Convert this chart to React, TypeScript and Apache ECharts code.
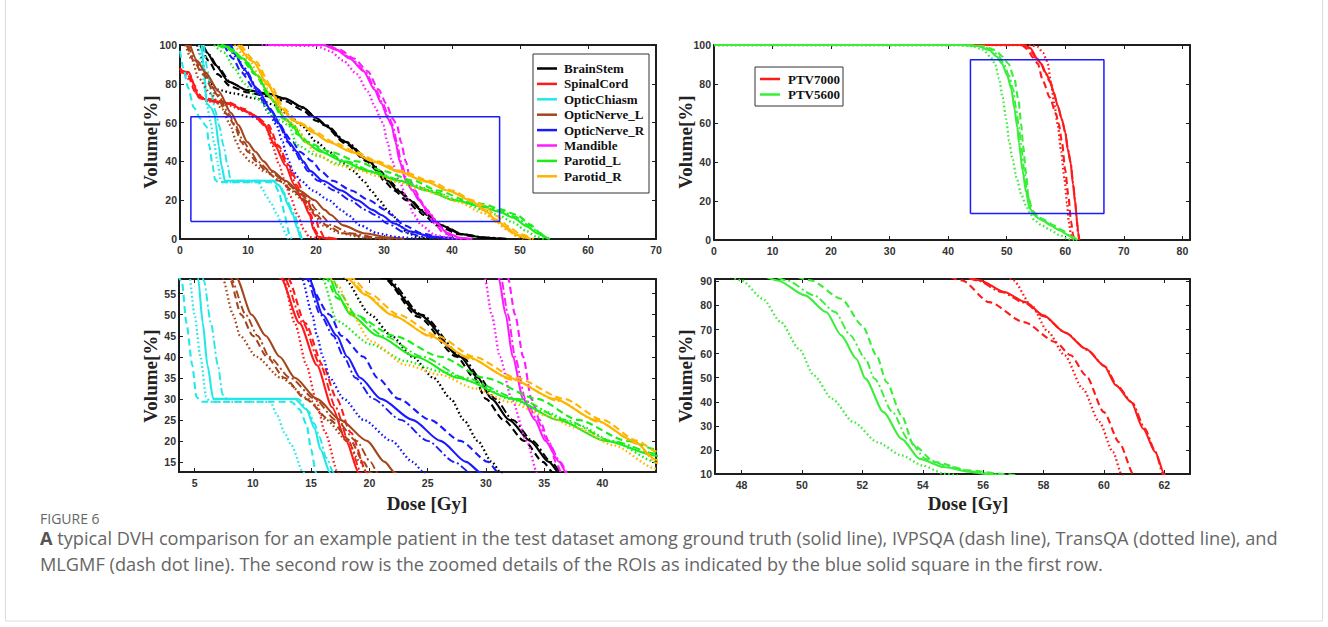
import React, { useEffect, useRef } from 'react';
import * as echarts from 'echarts';

type P = [number, number];

// ---------- names, colours, ticks ----------
const organNames = ['BrainStem', 'SpinalCord', 'OpticChiasm', 'OpticNerve_L', 'OpticNerve_R', 'Mandible', 'Parotid_L', 'Parotid_R'];
const organColors = ['#000000', '#ff1a1a', '#22e8e8', '#a5451c', '#1a1aff', '#ff1aff', '#1aee1a', '#ffb400'];
const methodNames = ['Ground truth', 'IVPSQA', 'TransQA', 'MLGMF'];
const ptvNames = ['PTV7000', 'PTV5600'];
const ptvColors = ['#ff1a1a', '#3aee3a'];

const ticksX0 = [0, 10, 20, 30, 40, 50, 60, 70];
const ticksY0 = [0, 20, 40, 60, 80, 100];
const ticksX1 = [0, 10, 20, 30, 40, 50, 60, 70, 80];
const ticksY1 = [0, 20, 40, 60, 80, 100];
const ticksX2 = [5, 10, 15, 20, 25, 30, 35, 40];
const ticksY2 = [15, 20, 25, 30, 35, 40, 45, 50, 55];
const ticksX3 = [48, 50, 52, 54, 56, 58, 60, 62];
const ticksY3 = [10, 20, 30, 40, 50, 60, 70, 80, 90];

// ROI boxes [xmin, xmax, ymin, ymax]
const roiOAR = [1.6, 47.0, 9.0, 63.0];
const roiPTV = [43.8, 66.6, 13.6, 92.5];

// ---------- DVH curves: [dose Gy, volume %]; order GT, IVPSQA, TransQA, MLGMF ----------
const brainStem: P[][] = [
  [[3.2,100],[4.0,96],[5.2,89.7],[7.2,81],[9.8,76.8],[12.9,75],[15.4,72.5],[18,68],[20,62.5],[21.3,58.7],[24.3,50],[27.8,40],[29.3,35],[30.5,30],[32,25],[33.8,20],[35.4,15],[36.3,12.4],[38.4,7],[41.4,2.5],[44.5,0.8],[48,0]],
  [[3.0,100],[4.2,92],[5.5,85],[7.5,78.5],[10,75.5],[13,73.5],[15.5,71],[18,66.5],[20,61],[21.2,58.7],[24.2,49.5],[27.5,40],[29,35],[30,30],[31.5,25],[33.3,20],[34.9,15],[35.8,12.4],[37.8,7],[41,2.5],[44,0.8],[47.5,0]],
  [[2.5,100],[3.0,95],[3.7,86],[4.5,80],[5.5,77],[8,75],[11,72.5],[14,69],[16,64],[17.8,58.7],[20.1,50],[21.9,45],[23.7,40],[25.5,35],[27,30],[28.1,25],[29.3,20],[30.5,15],[31.3,12.4],[32.3,7],[33.5,3],[35,0.8],[37,0]],
  [[3.4,100],[4.3,95],[5.5,89],[7.5,80.5],[10,76.5],[13,74.5],[15.6,72],[18.2,67.5],[20.2,62],[21.5,58.7],[24.5,50],[28,40],[29.5,35],[30.8,30],[32.3,25],[34,20],[35.6,15],[36.5,12.4],[38.6,7],[41.6,2.5],[44.8,0.8],[48.3,0]],
];
const spinalCord: P[][] = [
  [[0,87],[1.3,86],[2.0,80],[2.7,73],[4.2,71.5],[7.2,70],[9.3,66.5],[10.8,64],[12.4,58.7],[14.0,48],[15.5,38],[16.8,28],[18.0,20],[19.1,12.4],[19.6,5],[20.3,1.2],[21.5,0.3],[23,0]],
  [[0,88],[1.2,84],[2.2,76],[3.5,72.5],[7,70.5],[9.5,67],[11.2,63],[13.0,58.7],[14.5,48],[16,38],[17.2,30],[18.4,22],[19.8,12.4],[20.5,5],[21.2,1],[23,0]],
  [[0,88],[1.5,82],[2.5,75],[4,71],[7,69],[9.5,66],[11.2,62],[12.6,58.7],[13.6,48],[14.6,38],[15.4,30],[16.2,22],[17.3,12.4],[18.2,5],[19,1],[21,0]],
  [[0,86],[1.4,85],[2.2,79],[2.9,72.5],[4.4,71],[7.4,69.5],[9.5,66],[11,63.5],[12.7,58.7],[14.3,48],[15.8,38],[17.1,28],[18.2,20],[19.3,12.4],[19.8,5],[20.5,1.2],[21.7,0.3],[23.2,0]],
];
const opticChiasm: P[][] = [
  [[3.2,100],[3.6,85],[3.9,70],[4.6,67.5],[5.1,64],[5.3,58.7],[5.7,48],[6.1,38],[6.6,30],[13.6,30],[14.6,27.5],[15.3,23],[15.8,18],[16.6,12.6],[17.2,6],[17.7,1],[18,0]],
  [[0,97],[0.5,88],[1.2,78],[2.0,68],[3.0,62],[3.9,58],[4.3,48],[4.8,38],[5.15,30.5],[5.6,29.3],[13.3,29.3],[14.0,27.5],[14.6,24],[15.0,18],[15.4,12.6],[15.8,6],[16.1,2],[16.4,0]],
  [[2.8,100],[3.2,90],[3.6,78],[4.0,68],[4.5,60],[5.0,50],[5.5,40],[6.0,30.5],[6.3,29.3],[11.5,29.3],[12.1,26],[12.7,22],[13.3,19],[14.3,12.6],[15.0,7],[15.5,3],[15.9,0]],
  [[3.5,100],[4.0,88],[4.6,75],[5.2,66],[5.8,58],[6.4,48],[7.0,38],[7.4,31],[7.8,30],[13.9,30],[14.8,27],[15.3,24],[15.7,21],[16.3,16],[16.9,12.6],[17.4,6],[17.9,0]],
];
const opticNerveL: P[][] = [
  [[1.5,100],[2.5,92],[3.7,86],[5.7,76],[7.5,65],[8.6,58.7],[9.9,50],[11.1,45],[12.3,40],[13.6,35],[15.5,30],[17.5,25],[19.8,20],[21.3,15],[22.2,12.4],[24,7],[27,3],[31,0.7],[33,0]],
  [[1.0,100],[2.0,92],[3.3,85],[5.2,75],[7,64],[8.0,58.7],[9.0,50],[10,45],[11.2,40],[12.7,35],[14.5,30],[16.6,25],[18.4,20],[19.5,15],[20.1,12.4],[21.5,7],[24,3],[28,0.7],[31,0]],
  [[0.8,100],[1.8,92],[2.7,83],[4.5,75],[6.2,67],[7.4,58.7],[8.3,50],[8.9,45],[10.3,40],[12.4,35],[14.8,30],[16.3,25],[18.1,20],[19.2,15],[19.8,12.4],[21,7],[23.5,3],[27,0.7],[30,0]],
  [[1.2,100],[2.2,92],[3.5,85.5],[5.4,75.5],[7.2,64.5],[8.1,58.7],[9.4,50],[10.4,45],[11.4,40],[13.2,35],[15.3,30],[17.1,25],[18.9,20],[20.1,15],[20.7,12.4],[22.3,7],[25,3],[29,0.7],[32,0]],
];
const opticNerveR: P[][] = [
  [[7.2,100],[8.2,95],[9.3,88],[11.3,77.7],[13.3,67],[14.8,58.7],[16.0,50],[17.2,45],[18.1,40],[19.2,35],[21.0,30],[23.7,25],[26.1,20],[28.3,15],[29.6,12.4],[31.5,8],[34,3.8],[37,1.2],[40.5,0]],
  [[6.5,100],[7.8,93],[9,86],[11,77],[13,67],[14.5,58.7],[16.6,50],[17.6,45],[19.5,40],[20.7,35],[22.5,30],[25.2,25],[27.8,20],[30.2,15],[31.1,12.4],[33,7],[35.5,3],[38,1],[41,0]],
  [[7.0,100],[8.5,93],[10,84],[11.5,75],[13,65],[14.2,58.7],[15.1,50],[15.5,45],[16.0,40],[16.6,35],[17.8,30],[19.5,25],[21.9,20],[23.7,15],[24.7,12.4],[26.5,7],[29,3],[32,1],[35,0]],
  [[7.5,100],[9.5,88],[11.5,77],[13.3,67],[14.6,58.7],[15.8,50],[16.9,45],[17.8,40],[18.8,35],[20.3,30],[22.7,25],[25,20],[27.3,15],[28.7,12.4],[30.5,8],[33,3.5],[36,1],[39,0]],
];
const mandible: P[][] = [
  [[13,100],[21,100],[23,97.5],[25,93],[27,86.5],[28.6,77],[29.6,70],[30.6,62],[31.1,58.7],[31.7,50],[32.3,40],[33.2,30],[34.2,25],[35.1,20],[36.3,15],[36.9,12.4],[37.8,8],[39.3,3],[41.3,0.5],[43,0]],
  [[14,100],[21.5,100],[23.5,97.5],[25.6,93],[27.6,86.5],[29.2,77],[30.3,70],[31.3,62],[31.9,58.7],[32.5,50],[33.2,40],[33.9,30],[34.6,25],[35.4,20],[36,15],[36.5,12.4],[37.4,8],[38.8,3],[40.8,0.5],[42.5,0]],
  [[12,100],[20,99.5],[22,97],[24,92],[26,85],[27.6,76],[28.7,68],[29.5,62],[29.9,58.7],[30.5,50],[31.2,40],[32.2,30],[33.5,20],[34.4,12.4],[35.5,7],[37.5,2],[40,0.3],[41.5,0]],
  [[13,100],[21,100],[23.2,97.5],[25.2,93],[27.2,86.5],[28.8,77],[29.8,70],[30.8,62],[31.3,58.7],[31.9,50],[32.5,40],[33.4,30],[34.4,25],[35.3,20],[36.4,15],[37.0,12.4],[37.9,8],[39.4,3],[41.4,0.5],[43.2,0]],
];
const parotidL: P[][] = [
  [[6,100],[7,99],[9.3,93],[11.3,84.5],[13.4,72.5],[15.4,62.2],[16.6,58.7],[17.2,55],[18.4,50],[20.7,45],[24,40],[27.6,35],[32.3,30],[36.2,25],[40.3,20],[44.6,16.5],[47,14],[49,11],[51,6.5],[52.5,3],[53.7,1],[54.2,0]],
  [[5.5,100],[7,98],[9,93],[11,85],[13.2,73],[15.2,62],[16.3,58.7],[17.2,54],[18.7,50],[22.1,45],[26.1,40],[29.9,35],[34.4,30],[37.9,25],[42.1,20],[44.6,18],[47,15.5],[49.5,12.5],[51.5,7.5],[53,3],[54,0.5],[54.4,0]],
  [[5,100],[6.5,96],[8,88],[9.5,80],[11.5,72],[13.5,64],[15,60.5],[16,58.4],[17.2,48.5],[20.1,43],[23.1,39],[26.1,36.5],[29,34],[32,30],[35,27],[37.9,23.8],[40.9,19.8],[44.6,15],[47,12],[49,8.5],[51,4],[52.5,1],[53.5,0]],
  [[6.2,100],[7.2,99],[9.5,92.5],[11.5,84],[13.6,72],[15.6,61.8],[16.8,58.7],[17.5,55],[18.8,50],[21.2,45],[24.6,40],[28.2,35],[32.8,30],[36.8,25],[40.8,20],[44.6,17],[47.2,14.5],[49.3,11.5],[51.3,7],[52.8,3.2],[53.9,1],[54.3,0]],
];
const parotidR: P[][] = [
  [[8.5,100],[10.8,91.4],[12.9,79.4],[14.9,67.4],[16.6,61],[18.1,58.7],[19.5,55],[21.9,50],[25.2,45],[28.4,40],[32,35],[35.9,30],[39.4,25],[42.7,20],[44.6,15.5],[46.5,10],[48,6],[49.6,2],[51.6,0]],
  [[9,100],[11.2,91.4],[13.3,79.4],[15.3,67.4],[17,61],[18.5,58.7],[20,55],[22.5,50],[25.8,45],[29,40],[32.6,35],[36.7,30],[40,25],[43,20],[44.6,17.5],[46.5,12],[48.3,6.5],[50,2.5],[52,0]],
  [[8,100],[10,93],[12,82],[14,70],[15.8,61],[17.3,57],[18.5,50],[20.1,43.7],[23.1,38.1],[26.1,35.7],[29,32.5],[32,29.3],[35,26.1],[37.9,23],[40.9,19],[44.6,13.4],[46.5,9],[48,5],[49.5,1.5],[50.5,0]],
  [[8.7,100],[11,91],[13.1,79],[15.1,67],[16.8,60.8],[18.3,58.5],[19.8,54.5],[22.2,49.5],[25.5,44.5],[28.7,39.5],[32.3,34.5],[36.2,29.5],[39.7,24.5],[43,19.3],[44.6,14.8],[46.3,9.5],[47.8,5.5],[49.4,1.8],[51.3,0]],
];
const ptv7000: P[][] = [
  [[0,100],[52.8,100],[54,98.5],[55.2,93],[55.9,90.4],[56.7,85.6],[57.4,81.4],[58,75.9],[58.7,68.9],[59.4,62],[60,55.1],[60.4,46.8],[60.9,39.9],[61.3,28.8],[61.7,19.1],[62,10],[62.2,4],[62.4,0]],
  [[0,100],[52.5,100],[53.5,98],[54.5,93.5],[55.3,90.4],[56.2,81.4],[57.35,73.1],[58.4,64.8],[58.9,59.3],[59.4,51],[60.0,35.7],[60.5,23.2],[61.0,9.4],[61.3,3],[61.5,0]],
  [[0,100],[54,100],[55.3,99],[56.2,96],[56.7,93],[57,90.4],[57.6,80],[58.15,69],[58.7,59.3],[59.3,45.4],[59.85,31.6],[60.3,19.1],[60.6,9.4],[60.9,4],[61.2,0]],
  [[0,100],[52.6,100],[53.8,98.3],[55.1,92.8],[55.8,90.4],[56.6,85.6],[57.35,81.2],[58,75.5],[58.75,68.5],[59.45,61.5],[60.05,54.5],[60.45,46.5],[60.95,39.5],[61.35,29],[61.7,19.5],[61.95,10],[62.15,4],[62.35,0]],
];
const ptv5600: P[][] = [
  [[0,100],[42,100],[45,99.5],[47,97.5],[48.3,94],[49.2,90.4],[50.1,84.2],[50.8,77.3],[51.3,67.6],[51.8,57.9],[52.1,49.6],[52.7,35.7],[53.3,24.6],[53.9,16.3],[54.7,12.9],[55.5,11],[56.1,10],[57.5,7.5],[59,5],[60.5,2.5],[61.5,1],[62,0]],
  [[0,100],[43,100],[46,99.5],[48,97.5],[49.3,94],[50.3,90.4],[51.3,82.8],[52.0,71.7],[52.47,59.3],[52.8,48.2],[53.3,34.3],[53.7,21.9],[54.4,15],[55.5,11.5],[56.7,10],[58,7.5],[59.5,5],[60.8,2],[61.5,0.5],[62,0]],
  [[0,100],[41,100],[44,99.5],[46,97.5],[47.2,94],[48.0,90.4],[48.7,82.8],[49.3,73.1],[49.9,62],[50.4,50.9],[51.0,41.2],[51.7,31.6],[52.5,23.2],[53.3,17.7],[54,13.5],[54.7,10.1],[56,7.5],[57.5,5],[59,2.5],[60.5,0.5],[61.5,0]],
  [[0,100],[42.5,100],[45.5,99.5],[47.5,97.5],[48.7,94],[49.5,90.4],[50.4,84.2],[51.1,77.3],[51.6,67.6],[52.1,57.9],[52.4,49.6],[53.0,35.7],[53.5,24.6],[54.1,16.3],[54.9,12.9],[55.7,11],[56.3,10],[57.7,7.5],[59.2,5],[60.6,2.5],[61.6,1],[62.1,0]],
];

const organCurves = [brainStem, spinalCord, opticChiasm, opticNerveL, opticNerveR, mandible, parotidL, parotidR];
const ptvCurves = [ptv7000, ptv5600];

// ---------- styling ----------
const methodDash: any[] = ['solid', [7, 4], [1.6, 2.6], [8, 3, 2, 3]];
const methodWidth = [2.1, 2.1, 2.3, 1.9];
const SERIF = "'Liberation Serif', 'Times New Roman', serif";
const SANS = "'Liberation Sans', Arial, sans-serif";
const CAP = "'Open Sans', sans-serif";
const AXC = '#1e1e1e';

const panels = [
  { grid: { left: 180, top: 45, width: 476, height: 194 }, x: [0, 70], y: [0, 100], xt: ticksX0, yt: ticksY0 },
  { grid: { left: 714, top: 45, width: 476, height: 195 }, x: [0, 81.3], y: [0, 100], xt: ticksX1, yt: ticksY1 },
  { grid: { left: 179, top: 279, width: 477, height: 193 }, x: [3.66, 44.6], y: [12.6, 58.5], xt: ticksX2, yt: ticksY2 },
  { grid: { left: 715, top: 279, width: 475, height: 195 }, x: [47.12, 62.85], y: [10, 91], xt: ticksX3, yt: ticksY3 },
];

function buildOption() {
  const grids = panels.map((p) => ({ ...p.grid, containLabel: false, show: false }));
  const xAxes: any[] = [];
  const yAxes: any[] = [];
  const mkX = (p: any, i: number, pos: string) => ({
    type: 'value', gridIndex: i, position: pos, min: p.x[0], max: p.x[1],
    axisLine: { show: true, onZero: false, lineStyle: { color: AXC, width: 2 } },
    axisTick: { show: true, inside: true, length: 4, customValues: p.xt, lineStyle: { color: AXC, width: 1 } },
    axisLabel: pos === 'bottom'
      ? { show: true, customValues: p.xt, margin: 5, color: '#333', fontSize: 10.5, fontWeight: 'bold', fontFamily: SANS }
      : { show: false },
    splitLine: { show: false },
  });
  const mkY = (p: any, i: number, pos: string) => ({
    type: 'value', gridIndex: i, position: pos, min: p.y[0], max: p.y[1],
    axisLine: { show: true, onZero: false, lineStyle: { color: AXC, width: 2 } },
    axisTick: { show: true, inside: true, length: 4, customValues: p.yt, lineStyle: { color: AXC, width: 1 } },
    axisLabel: pos === 'left'
      ? { show: true, customValues: p.yt, margin: 3, color: '#333', fontSize: 10.5, fontWeight: 'bold', fontFamily: SANS }
      : { show: false },
    splitLine: { show: false },
  });
  panels.forEach((p, i) => { xAxes.push(mkX(p, i, 'bottom')); yAxes.push(mkY(p, i, 'left')); });
  panels.forEach((p, i) => { xAxes.push(mkX(p, i, 'top')); yAxes.push(mkY(p, i, 'right')); });

  const series: any[] = [];
  const addCurves = (curves: P[][][], names: string[], colors: string[], axis: number) => {
    curves.forEach((set, oi) => {
      set.forEach((data, mi) => {
        series.push({
          type: 'line', name: names[oi] + ' ' + methodNames[mi],
          xAxisIndex: axis, yAxisIndex: axis, data,
          showSymbol: false, symbol: 'none', smooth: 0.25, smoothMonotone: 'x', clip: true,
          lineStyle: { color: colors[oi], width: methodWidth[mi], type: methodDash[mi] },
          silent: true, z: 2,
        });
      });
    });
  };
  addCurves(organCurves, organNames, organColors, 0);
  addCurves(organCurves, organNames, organColors, 2);
  addCurves(ptvCurves, ptvNames, ptvColors, 1);
  addCurves(ptvCurves, ptvNames, ptvColors, 3);

  const boxData = (b: number[]): P[] => [[b[0], b[2]], [b[1], b[2]], [b[1], b[3]], [b[0], b[3]], [b[0], b[2]]];
  series.push({ type: 'line', name: 'ROI OAR', xAxisIndex: 0, yAxisIndex: 0, data: boxData(roiOAR), showSymbol: false, symbol: 'none', lineStyle: { color: '#1a1aff', width: 1.5 }, z: 5, silent: true });
  series.push({ type: 'line', name: 'ROI PTV', xAxisIndex: 1, yAxisIndex: 1, data: boxData(roiPTV), showSymbol: false, symbol: 'none', lineStyle: { color: '#1a1aff', width: 1.5 }, z: 5, silent: true });

  // legends & texts
  const graphics: any[] = [];
  graphics.push({ type: 'rect', shape: { x: 533, y: 54, width: 116, height: 139 }, style: { fill: '#fff', stroke: '#333', lineWidth: 1 }, z: 50 });
  organNames.forEach((n, i) => {
    const yy = 68.5 + i * 15.4;
    graphics.push({ type: 'line', shape: { x1: 537, y1: yy, x2: 557, y2: yy }, style: { stroke: organColors[i], lineWidth: 2.5 }, z: 51 });
    graphics.push({ type: 'text', x: 564, y: yy, style: { text: n, fill: '#111', font: `bold 13px ${SERIF}`, textVerticalAlign: 'middle', textAlign: 'left' }, z: 51 });
  });
  graphics.push({ type: 'rect', shape: { x: 755, y: 67, width: 88, height: 39 }, style: { fill: '#fff', stroke: '#333', lineWidth: 1 }, z: 50 });
  ptvNames.forEach((n, i) => {
    const yy = 79 + i * 15.5;
    graphics.push({ type: 'line', shape: { x1: 760, y1: yy, x2: 780, y2: yy }, style: { stroke: ptvColors[i], lineWidth: 2.5 }, z: 51 });
    graphics.push({ type: 'text', x: 788, y: yy, style: { text: n, fill: '#111', font: `bold 13px ${SERIF}`, textVerticalAlign: 'middle', textAlign: 'left' }, z: 51 });
  });
  const vol = (x: number, y: number) => ({ type: 'text', x, y, rotation: Math.PI / 2, style: { text: 'Volume[%]', fill: '#222', font: `bold 19px ${SERIF}`, textAlign: 'center', textVerticalAlign: 'middle' }, z: 51 });
  graphics.push(vol(150, 142), vol(685, 142), vol(150, 376), vol(685, 376));
  const dose = (x: number) => ({ type: 'text', x, y: 503, style: { text: 'Dose [Gy]', fill: '#222', font: `bold 19px ${SERIF}`, textAlign: 'center', textVerticalAlign: 'middle' }, z: 51 });
  graphics.push(dose(427), dose(968));
  graphics.push({ type: 'text', x: 40, y: 518, style: { text: 'FIGURE 6', fill: '#666', font: `14px ${CAP}`, textVerticalAlign: 'middle' }, z: 51 });
  graphics.push({
    type: 'text', x: 40, y: 538,
    style: {
      text: '{b|A} typical DVH comparison for an example patient in the test dataset among ground truth (solid line), IVPSQA (dash line), TransQA (dotted line), and',
      rich: { b: { fontWeight: 'bold', fontSize: 18.2, fontFamily: CAP, fill: '#555' } },
      fill: '#666', font: `18.2px ${CAP}`, textVerticalAlign: 'middle',
    }, z: 51,
  });
  graphics.push({ type: 'text', x: 40, y: 564, style: { text: 'MLGMF (dash dot line). The second row is the zoomed details of the ROIs as indicated by the blue solid square in the first row.', fill: '#666', font: `18.2px ${CAP}`, textVerticalAlign: 'middle' }, z: 51 });
  graphics.push({ type: 'rect', shape: { x: 5.5, y: -2, width: 1317, height: 623 }, style: { fill: 'none', stroke: '#dcdcdc', lineWidth: 1 }, z: 0 });

  return {
    animation: false,
    backgroundColor: '#fff',
    grid: grids,
    xAxis: xAxes,
    yAxis: yAxes,
    series,
    graphic: graphics,
  };
}

export default function App() {
  const ref = useRef<HTMLDivElement>(null);
  useEffect(() => {
    document.body.style.margin = '0';
    if (!ref.current) return;
    const chart = echarts.init(ref.current, undefined, { renderer: 'svg' });
    chart.setOption(buildOption() as any);
    return () => chart.dispose();
  }, []);
  return <div ref={ref} style={{ width: 1328, height: 627 }} />;
}
